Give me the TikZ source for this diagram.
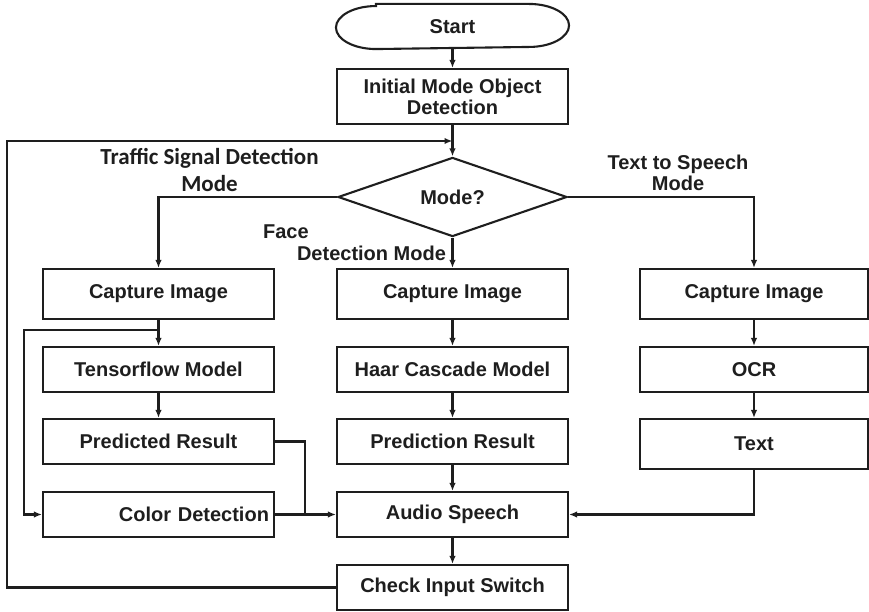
\documentclass[tikz,border=0pt]{standalone}
\usepackage{fontspec}
\setmainfont{Liberation Sans}
\newfontfamily\calfont{Carlito}
\usetikzlibrary{shapes.geometric,arrows.meta}
\definecolor{ink}{HTML}{1E1E1E}
\begin{document}
\begin{tikzpicture}[x=1pt,y=-1pt,
  line width=2.1pt, draw=ink, text=ink,
  box/.style={draw, rectangle, inner sep=0pt, align=center,
    font=\fontsize{20}{21}\selectfont\bfseries},
  lcol/.style={box, minimum width=231pt},
  mcol/.style={box, minimum width=231pt},
  rcol/.style={box, minimum width=228pt},
  decision/.style={draw, diamond, inner sep=0pt, minimum width=229pt,
    minimum height=61pt, font=\fontsize{20}{21}\selectfont\bfseries},
  lbl/.style={inner sep=0pt, align=center,
    font=\fontsize{20}{21}\selectfont\bfseries},
  clbl/.style={inner sep=0pt, align=center,
    font=\fontsize{23}{27}\selectfont\calfont\bfseries},
  arr/.style={-{Latex[length=8pt,width=6.5pt]}}
]
\useasboundingbox (0,0) rectangle (869,612);

% terminal
\node[inner sep=0pt, minimum width=231pt, minimum height=43pt,
      font=\fontsize{20}{21}\selectfont\bfseries] (start) at (452.5,26.5) {Start};
\draw ([xshift=40pt]start.north west) -- ([xshift=-40pt]start.north east)
  arc[start angle=90, end angle=-90, x radius=40pt, y radius=21.5pt]
  -- ([xshift=40pt]start.south west)
  arc[start angle=270, end angle=90, x radius=40pt, y radius=21.5pt] -- cycle;

\node[mcol, minimum height=55pt] (init) at (452.5,96.5) {Initial Mode Object\\Detection};
\node[decision] (mode) at (452.5,197) {Mode?};

% left column
\node[lcol, minimum height=50pt] (capl) at (158.5,294) {Capture Image};
\node[lcol, minimum height=45pt] (tf) at (158.5,369.5) {Tensorflow Model};
\node[lcol, minimum height=45pt] (pred) at (158.5,441.5) {Predicted Result};
\node[lcol, minimum height=45pt, text width=221pt, align=right] (color) at (158.5,514.5) {Color Detection};

% middle column
\node[mcol, minimum height=50pt] (capm) at (452.5,294) {Capture Image};
\node[mcol, minimum height=45pt] (haar) at (452.5,369.5) {Haar Cascade Model};
\node[mcol, minimum height=45pt] (presult) at (452.5,441.5) {Prediction Result};
\node[mcol, minimum height=45pt] (audio) at (452.5,514.5) {Audio Speech};
\node[mcol, minimum height=45pt] (check) at (452.5,587.5) {Check Input Switch};

% right column
\node[rcol, minimum height=50pt] (capr) at (754,294) {Capture Image};
\node[rcol, minimum height=45pt] (ocr) at (754,369.5) {OCR};
\node[rcol, minimum height=50pt] (txt) at (754,444) {Text};

% branch labels
\node[clbl] (ltraffic) at (209.5,169.5) {Traffic Signal Detection\\Mode};
\node[lbl] (ltts) at (678,172.5) {Text to Speech\\Mode};
\node[lbl, anchor=west] (lface) at (262,232) {Face};
\node[lbl, anchor=west] (lfacemode) at (296,253) {Detection Mode};

% helper points
\coordinate (join) at (452.5,141);
\coordinate (loopx) at (7,141);
\coordinate (split) at (158.5,330);
\coordinate (splitx) at (24,330);
\coordinate (merge) at (305,441.5);

% connectors
\draw[arr] (start) -- (init);
\draw[arr] (init) -- (mode);
\draw[arr] (mode.west) -| (capl.north);
\draw[arr] (mode.south) -- (capm.north);
\draw[arr] (mode.east) -| (capr.north);

\draw[arr] (capl) -- (tf);
\draw[arr] (split) -- (splitx) |- (color.west);
\draw[arr] (tf) -- (pred);
\draw (pred.east) -- (merge) -- (merge |- color.east);
\draw[arr] (color.east) -- (audio.west);

\draw[arr] (capm) -- (haar);
\draw[arr] (haar) -- (presult);
\draw[arr] (presult) -- (audio);
\draw[arr] (audio) -- (check);

\draw[arr] (capr) -- (ocr);
\draw[arr] (ocr) -- (txt);
\draw[arr] (txt.south) |- (audio.east);

\draw[arr] (check.west) -| (loopx) -- (join);
\end{tikzpicture}
\end{document}
